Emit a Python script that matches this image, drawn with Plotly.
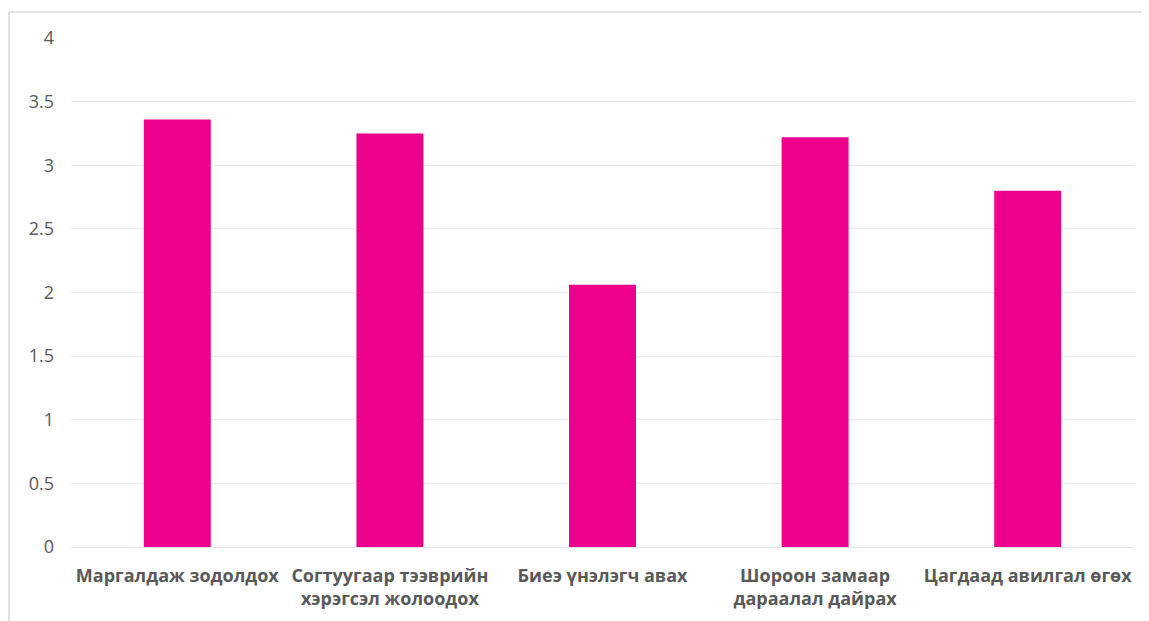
import plotly.graph_objects as go

categories = ["Маргалдаж зодолдох", "Согтуугаар тээврийн<br>хэрэгсэл жолоодох",
              "Биеэ үнэлэгч авах", "Шороон замаар<br>дараалал дайрах", "Цагдаад авилгал өгөх"]
values = [3.36, 3.25, 2.06, 3.22, 2.80]
y_ticks = [0, 0.5, 1, 1.5, 2, 2.5, 3, 3.5, 4]
y_labels = ["0", "0.5", "1", "1.5", "2", "2.5", "3", "3.5", "4"]

# page body has an 8px default margin; compensate
OFF = 8
W, H = 1149 - OFF, 621 - OFF
ml, mr, mt, mb = 71 - OFF, 15, 38 - OFF, 74
pw, ph = W - ml - mr, H - mt - mb

fig = go.Figure(go.Bar(x=categories, y=values, marker_color="#EC008C",
                       marker_line_width=0, width=0.315))
fig.update_layout(
    width=W, height=H, margin=dict(l=ml, r=mr, t=mt, b=mb),
    paper_bgcolor="white", plot_bgcolor="white", showlegend=False,
    font=dict(family="Open Sans", color="#595959"),
)
fig.update_yaxes(range=[0, 4], tickvals=y_ticks, ticktext=y_labels,
                 gridcolor="#EBEBEB", gridwidth=1, zeroline=False,
                 tickfont=dict(size=18, color="#595959"), ticklabelstandoff=16,
                 showline=False)
fig.update_xaxes(tickfont=dict(size=18, color="#595959", weight="bold"),
                 showline=True, linecolor="#E6E6E6", ticklabelstandoff=12)

# chart-area border: only top and left edges are visible in the reference
bx0 = (9 - OFF - ml) / pw
by1 = (H - mb - (12 - OFF)) / ph
bx1 = (W + 40 - ml) / pw
by0 = -(H + 40 - mt - ph) / ph
border = dict(color="#D9D9D9", width=1.5)
fig.add_shape(type="line", xref="paper", yref="paper", x0=bx0, x1=bx1, y0=by1, y1=by1,
              line=border, layer="below")
fig.add_shape(type="line", xref="paper", yref="paper", x0=bx0, x1=bx0, y0=by0, y1=by1,
              line=border, layer="below")
fig.write_html("out.html")
